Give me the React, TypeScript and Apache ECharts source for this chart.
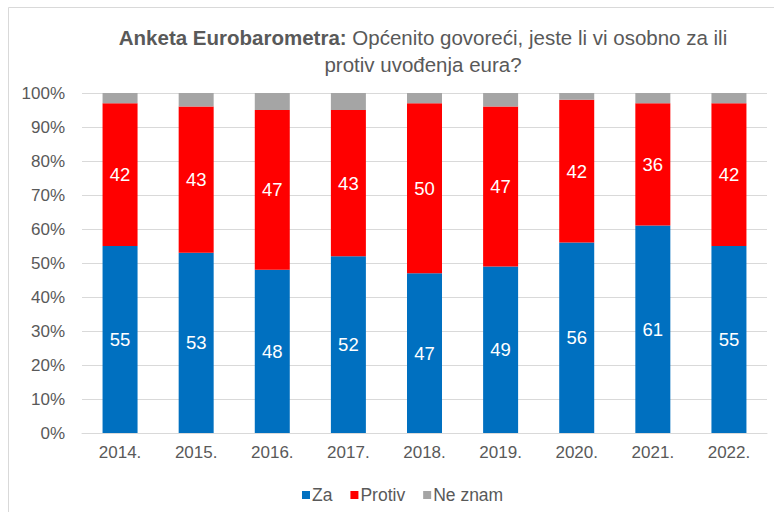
import React, { useEffect, useRef } from "react";
import * as echarts from "echarts";

const categories = ["2014.", "2015.", "2016.", "2017.", "2018.", "2019.", "2020.", "2021.", "2022."];
const za = [55, 53, 48, 52, 47, 49, 56, 61, 55];
const protiv = [42, 43, 47, 43, 50, 47, 42, 36, 42];
const neZnam = [3, 4, 5, 5, 3, 4, 2, 3, 3];
const yTicks = [0, 10, 20, 30, 40, 50, 60, 70, 80, 90, 100];

const FONT = "'Liberation Sans', Arial, sans-serif";
const GREY_TEXT = "#595959";

export default function App() {
  const ref = useRef<HTMLDivElement>(null);
  useEffect(() => {
    if (!ref.current) return;
    const chart = echarts.init(ref.current, undefined, { renderer: "svg" });
    const dataLabel = {
      show: true,
      position: "inside",
      color: "#ffffff",
      fontSize: 18.5,
      fontFamily: FONT,
    };
    chart.setOption({
      animation: false,
      backgroundColor: "#ffffff",
      textStyle: { fontFamily: FONT },
      title: {
        text: "{b|Anketa Eurobarometra:} Općenito govoreći, jeste li vi osobno za ili\nprotiv uvođenja eura?",
        left: 418,
        top: 19,
        textAlign: "center",
        textStyle: {
          fontFamily: FONT,
          fontSize: 20.5,
          fontWeight: "normal",
          color: GREY_TEXT,
          lineHeight: 27,
          rich: {
            b: { fontFamily: FONT, fontSize: 20.5, fontWeight: "bold", color: GREY_TEXT, lineHeight: 27 },
          },
        },
      },
      graphic: [
        {
          type: "rect",
          shape: { x: 8.5, y: 7.5, width: 800, height: 600 },
          style: { fill: "none", stroke: "#D9D9D9", lineWidth: 1 },
          silent: true,
          z: -10,
        },
      ],
      legend: {
        data: ["Za", "Protiv", "Ne znam"],
        left: 297,
        top: 481,
        itemWidth: 8,
        itemHeight: 8,
        itemGap: 18,
        icon: "rect",
        textStyle: { fontFamily: FONT, fontSize: 17.5, color: GREY_TEXT, padding: [0, 0, 0, -3] },
      },
      grid: { left: 82, right: 7, top: 93, bottom: 79, containLabel: false },
      xAxis: {
        type: "category",
        data: categories,
        axisTick: { show: false },
        axisLine: { lineStyle: { color: "#D9D9D9", width: 1 } },
        axisLabel: { fontFamily: FONT, fontSize: 17, color: GREY_TEXT, margin: 11 },
      },
      yAxis: {
        type: "value",
        min: yTicks[0],
        max: yTicks[yTicks.length - 1],
        interval: 10,
        axisLabel: { fontFamily: FONT, fontSize: 17, color: GREY_TEXT, formatter: "{value}%", margin: 17 },
        splitLine: { lineStyle: { color: "#D9D9D9", width: 1 } },
        axisLine: { show: false },
        axisTick: { show: false },
      },
      series: [
        {
          name: "Za",
          type: "bar",
          stack: "total",
          barWidth: 35,
          data: za,
          itemStyle: { color: "#0070C0" },
          label: dataLabel,
        },
        {
          name: "Protiv",
          type: "bar",
          stack: "total",
          barWidth: 35,
          data: protiv,
          itemStyle: { color: "#FF0000" },
          label: dataLabel,
        },
        {
          name: "Ne znam",
          type: "bar",
          stack: "total",
          barWidth: 35,
          data: neZnam,
          itemStyle: { color: "#A5A5A5" },
          label: { show: false },
        },
      ],
    });
    return () => chart.dispose();
  }, []);
  return <div ref={ref} style={{ width: 774, height: 512, position: "fixed", left: 0, top: 0 }} />;
}
